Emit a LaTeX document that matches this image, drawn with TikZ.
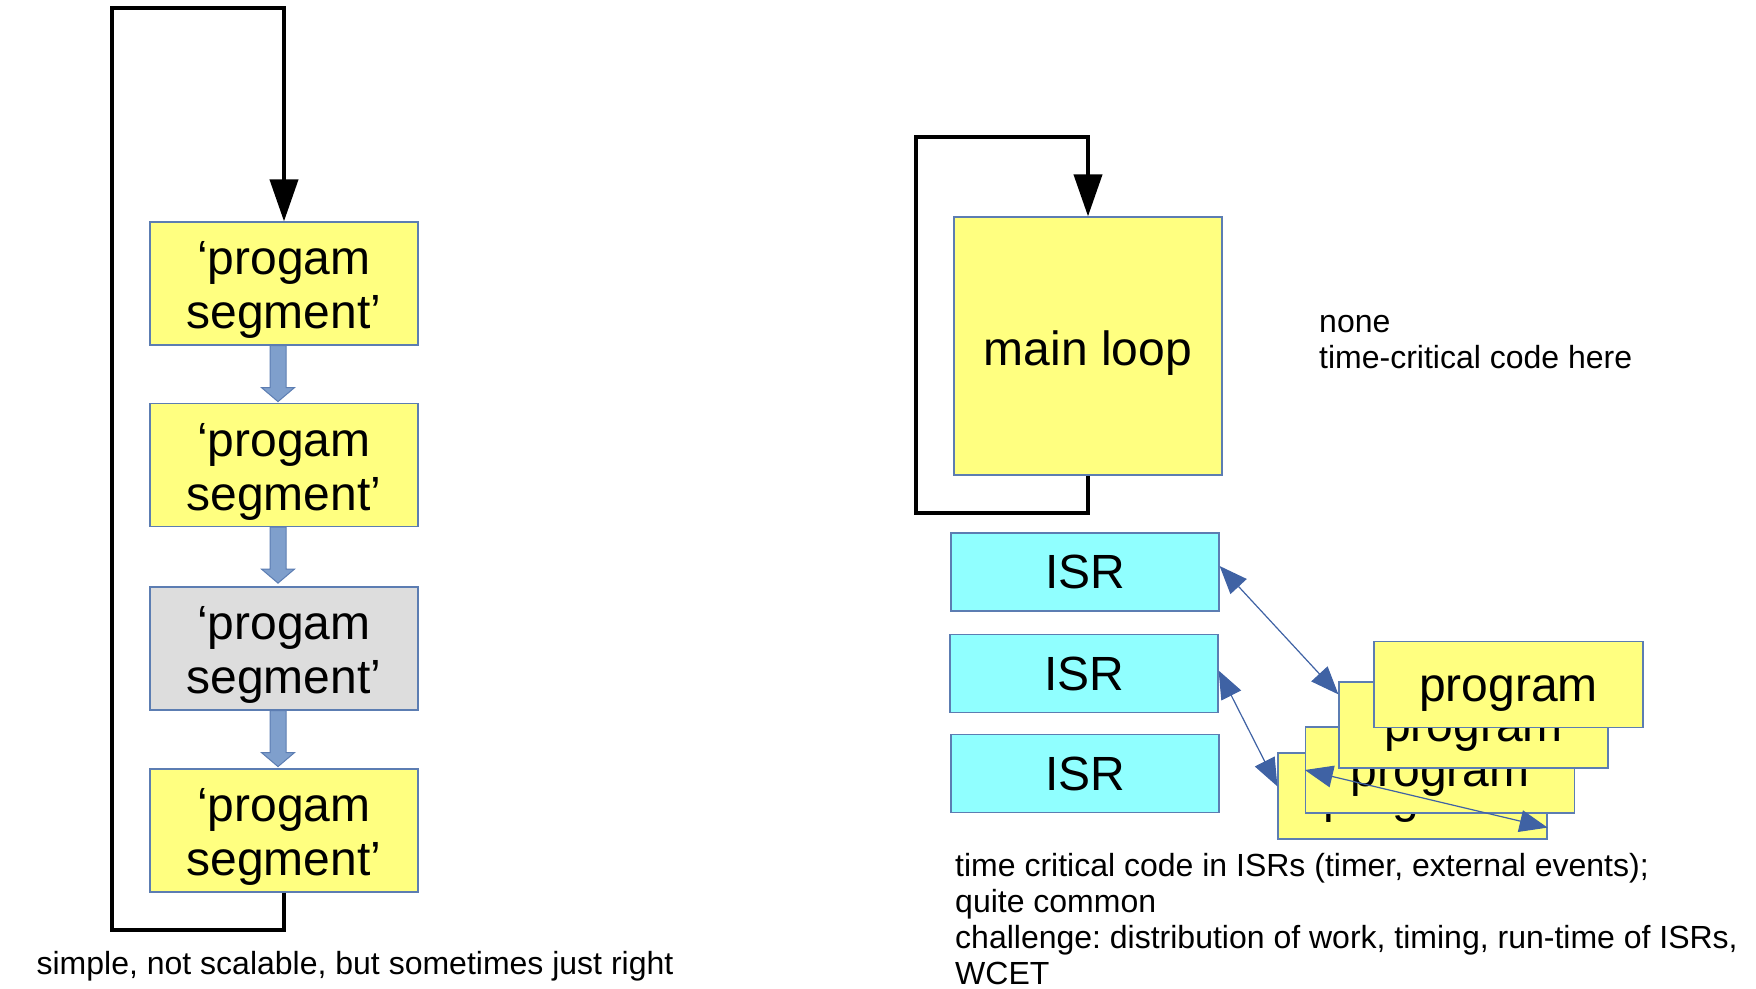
\documentclass[tikz,border=0pt]{standalone}
\usepackage{fontspec}
\setmainfont{Liberation Sans}
\usetikzlibrary{arrows.meta,calc}

\definecolor{segyellow}{RGB}{255,255,128}
\definecolor{seggray}{RGB}{221,221,221}
\definecolor{isrcyan}{RGB}{144,255,255}
\definecolor{edgeblue}{RGB}{92,125,178}
\definecolor{blockblue}{RGB}{127,159,204}
\definecolor{linkblue}{RGB}{63,98,164}

\tikzset{
    box/.style={draw=edgeblue, line width=1.2pt, fill=segyellow, inner sep=0pt,
        align=center, font=\fontsize{48}{54}\selectfont},
    segbox/.style={box, minimum width=268pt, minimum height=123pt,
        text height=90.2pt, text depth=0pt},
    isrbox/.style={box, fill=isrcyan, minimum width=268pt, minimum height=78pt},
    progbox/.style={box, minimum width=269pt, minimum height=86pt,
        text height=33pt, text depth=0pt},
    loopline/.style={line width=4pt, -{Triangle[length=42pt,width=28pt]}},
    blockarrow/.style={draw=edgeblue, line width=1pt, fill=blockblue},
    link/.style={draw=linkblue, line width=1.2pt,
        {Triangle[length=28pt,width=22pt]}-{Triangle[length=28pt,width=22pt]}},
    note/.style={font=\fontsize{32}{36}\selectfont, align=left, inner sep=0pt}
}

\begin{document}
\frenchspacing
\begin{tikzpicture}[x=1pt,y=-1pt]
    \useasboundingbox (0,0) rectangle (1756,988);

    % simple loop
    \node [segbox] (seg1) at (284,283.5) {‘progam\\segment’};
    \node [segbox] (seg2) at (284,465)   {‘progam\\segment’};
    \node [segbox, fill=seggray] (seg3) at (284,648.5) {‘progam\\segment’};
    \node [segbox] (seg4) at (284,830.5) {‘progam\\segment’};

    \foreach \a/\b in {seg1/seg2,seg2/seg3,seg3/seg4}{
        \draw [blockarrow] ($(\a.south)+(-14,0)$) -- ++(16,0) -- ++(0,42)
            -- ++(8.5,0) -- ++(-16.5,14) -- ++(-16.5,-14) -- ++(8.5,0) -- cycle;
    }

    \coordinate (lbot) at (112,930);
    \coordinate (ltop) at (112,8);
    \draw [loopline] (seg4.south) |- (lbot) -- (ltop) -| (seg1.north);

    \node [note, anchor=center] (leftnote) at (355,966)
        {simple, not scalable, but sometimes just right};

    % main loop with ISRs
    \node [box, minimum width=268pt, minimum height=258pt,
        text height=38.4pt, text depth=0pt] (main) at (1088,346) {main loop};
    \coordinate (rbot) at (916,513);
    \coordinate (rtop) at (916,137);
    \draw [loopline] (main.south) |- (rbot) -- (rtop) -| (main.north);

    \node [note, anchor=north west] (nonote) at (1319,315.5) {none\\time-critical code here};

    \node [isrbox] (isr1) at (1085,572)   {ISR};
    \node [isrbox] (isr2) at (1084,673.5) {ISR};
    \node [isrbox] (isr3) at (1085,773.5) {ISR};

    \node [progbox] (prog1) at (1412.5,796) {program};
    \node [progbox] (prog2) at (1440,770)   {program};
    \node [progbox] (prog3) at (1473.5,725) {program};
    \node [progbox] (prog4) at (1508.5,684.5) {program};

    \draw [link] ([yshift=6pt]isr1.east) -- ([yshift=-13pt]prog3.north west);
    \draw [link] ([yshift=3pt]isr2.east) -- ([yshift=-34pt]prog1.north west);
    \draw [link] (prog2.west) -- ([yshift=12pt]prog1.south east);

    \node [note, anchor=north west] (isrnote) at (955,853.5)
        {time critical code in ISRs (timer, external events);\\quite common\\
         challenge: distribution of work, timing, run-time of ISRs,\\WCET};
\end{tikzpicture}
\end{document}
